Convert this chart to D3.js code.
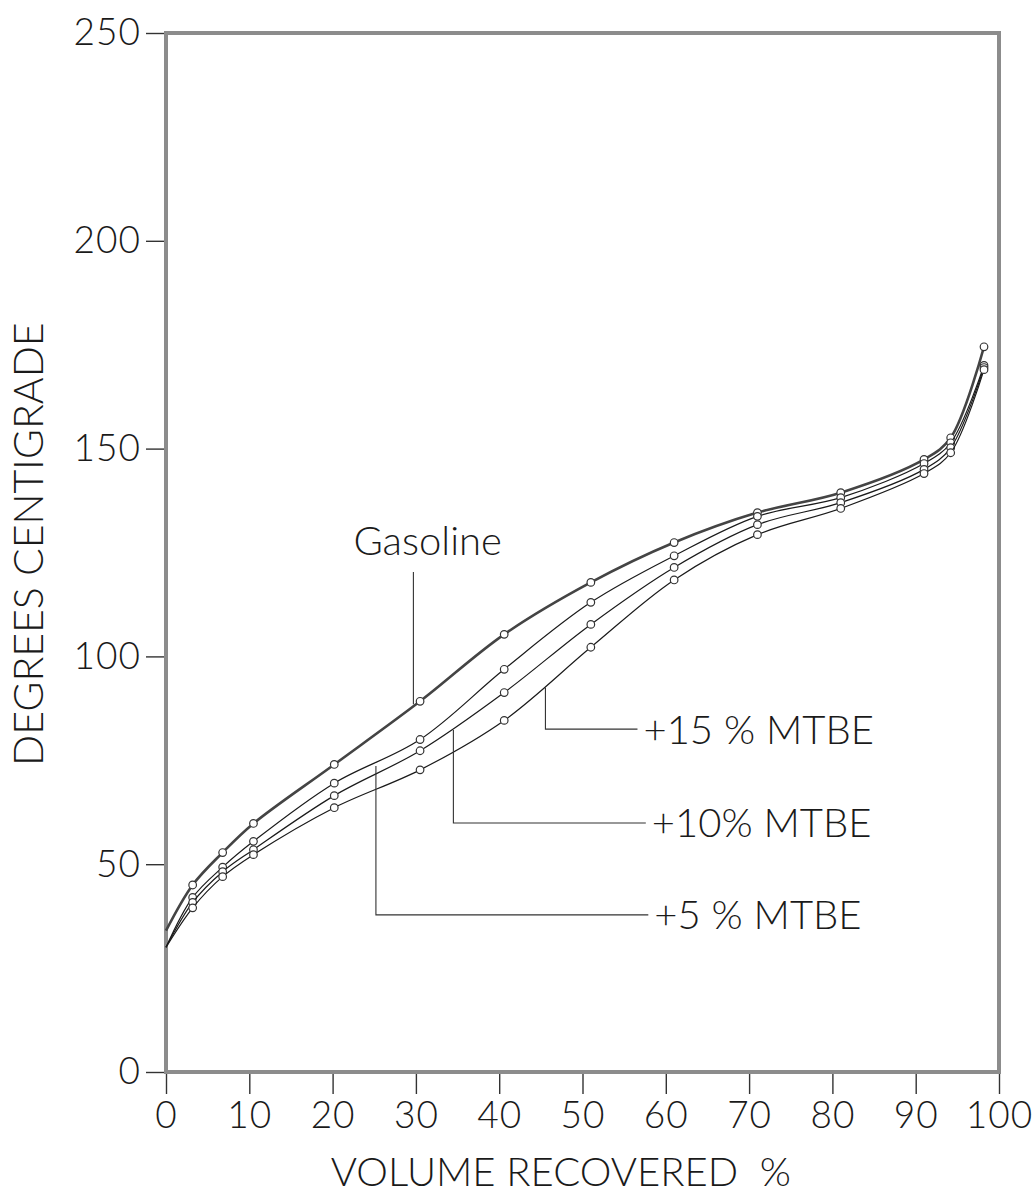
<!DOCTYPE html>
<html>
<head>
<meta charset="utf-8">
<script src="https://cdn.jsdelivr.net/npm/d3@7"></script>
<style>
  body { margin: 0; background: #fff; }
  text { font-family: Lato, Roboto, "Liberation Sans", sans-serif; font-weight: 300; fill: #1a1a1a; white-space: pre; }
</style>
</head>
<body>
<svg id="chart"></svg>
<script>
// % volume recovered at which the temperatures were read
let volume = [0, 3.2, 6.8, 10.5, 20.2, 30.5, 40.6, 51, 61, 71, 81, 91, 94.2, 98.2];

// boiling temperature, degrees C
let gasoline = [34, 45, 52.8, 59.8, 74, 89.2, 105.3, 117.8, 127.4, 134.6, 139.4, 147.4, 152.6, 174.5];
let mtbe5    = [30, 42, 49.3, 55.5, 69.5, 80, 96.9, 113, 124.2, 133.7, 138.2, 146.4, 151.4, 170];
let mtbe10   = [30, 40.8, 48.2, 53.5, 66.5, 77.3, 91.3, 107.7, 121.4, 131.7, 137, 145, 150.2, 169.5];
let mtbe15   = [30, 39.5, 47, 52.3, 63.6, 72.7, 84.6, 102.2, 118.4, 129.3, 135.6, 144, 149, 169];

let xTicks = [0, 10, 20, 30, 40, 50, 60, 70, 80, 90, 100];
let yTicks = [0, 50, 100, 150, 200, 250];

let seriesNames = ["Gasoline", "+5 % MTBE", "+10% MTBE", "+15 % MTBE"];

drawChart();

function drawChart() {
    let svgWidth = 1035, svgHeight = 1198;
    let margin = { top: 33, right: 36, bottom: 126, left: 166 };
    let width = svgWidth - margin.left - margin.right;
    let height = svgHeight - margin.top - margin.bottom;
    let font = "Lato, Roboto, 'Liberation Sans', sans-serif";

    let svg = d3.select("#chart")
        .attr("width", svgWidth)
        .attr("height", svgHeight);

    let g = svg.append("g")
        .attr("transform", "translate(" + margin.left + "," + margin.top + ")");

    let x = d3.scaleLinear().domain([0, 100]).range([0, width]);
    let y = d3.scaleLinear().domain([0, 250]).range([height, 0]);

    // x axis: ticks hanging below the frame
    let xAxis = g.append("g")
        .attr("transform", "translate(0," + height + ")")
        .call(d3.axisBottom(x).tickValues(xTicks).tickSize(22).tickPadding(8));
    xAxis.select(".domain").remove();
    xAxis.selectAll("line").attr("stroke", "#333").attr("stroke-width", 1.4);
    xAxis.selectAll("text")
        .attr("font-size", 37)
        .attr("font-family", font)
        .attr("font-weight", 300)
        .attr("letter-spacing", 1)
        .attr("fill", "#1a1a1a");

    // y axis: ticks sticking out to the left
    let yAxis = g.append("g")
        .call(d3.axisLeft(y).tickValues(yTicks).tickSize(20).tickPadding(5));
    yAxis.select(".domain").remove();
    yAxis.selectAll("line").attr("stroke", "#333").attr("stroke-width", 1.4);
    yAxis.selectAll("text")
        .attr("font-size", 37)
        .attr("font-family", font)
        .attr("font-weight", 300)
        .attr("letter-spacing", 1)
        .attr("fill", "#1a1a1a");

    // frame
    g.append("rect")
        .attr("x", 0)
        .attr("y", 0)
        .attr("width", width)
        .attr("height", height)
        .attr("fill", "none")
        .attr("stroke", "#8c8c8c")
        .attr("stroke-width", 4);

    // axis titles
    svg.append("text")
        .attr("x", margin.left + x(47.4))
        .attr("y", 1186)
        .attr("text-anchor", "middle")
        .attr("font-size", 40)
        .text("VOLUME RECOVERED  %");

    svg.append("text")
        .attr("transform", "translate(43," + (margin.top + y(127)) + ") rotate(-90)")
        .attr("text-anchor", "middle")
        .attr("font-size", 41)
        .text("DEGREES CENTIGRADE");

    let line = function (vals) {
        return d3.line()
            .x(function (d, i) { return x(volume[i]) })
            .y(function (d) { return y(d) })
            .curve(d3.curveCatmullRom.alpha(0.5))(vals);
    };

    let series = [gasoline, mtbe5, mtbe10, mtbe15];

    series.forEach(function (vals, k) {
        g.append("path")
            .attr("fill", "none")
            .attr("stroke", k === 0 ? "#444" : "#1a1a1a")
            .attr("stroke-width", k === 0 ? 2.6 : 1.2)
            .attr("stroke-linejoin", "round")
            .attr("d", line(vals));

        g.selectAll(null)
            .data(vals.slice(1))
            .enter().append("circle")
            .attr("cx", function (d, i) { return x(volume[i + 1]) })
            .attr("cy", function (d) { return y(d) })
            .attr("r", 3.8)
            .attr("fill", "#fff")
            .attr("stroke", "#333")
            .attr("stroke-width", 1.2);
    });

    // call-out leaders, in data units: vertical at `at`, from the curve down to `level`, then right to `end`
    let callouts = [
        { name: seriesNames[3], at: 45.55, top: 92.5, level: 82.5, end: 56.6 },
        { name: seriesNames[2], at: 34.5, top: 82.3, level: 59.9, end: 57.6 },
        { name: seriesNames[1], at: 25.2, top: 73.6, level: 37.8, end: 57.9 }
    ];

    callouts.forEach(function (c) {
        g.append("path")
            .attr("fill", "none")
            .attr("stroke", "#333")
            .attr("stroke-width", 1.1)
            .attr("d", d3.line()([
                [x(c.at), y(c.top)],
                [x(c.at), y(c.level)],
                [x(c.end), y(c.level)]
            ]));
        g.append("text")
            .attr("x", x(c.end) + 6)
            .attr("y", y(c.level))
            .attr("dy", "0.36em")
            .attr("font-size", 40)
            .text(c.name);
    });

    // gasoline label with a plain vertical pointer
    g.append("line")
        .attr("x1", x(29.7)).attr("x2", x(29.7))
        .attr("y1", y(120.3)).attr("y2", y(88.5))
        .attr("stroke", "#333")
        .attr("stroke-width", 1.1);
    g.append("text")
        .attr("x", x(22.5))
        .attr("y", y(124.4))
        .attr("font-size", 40)
        .text(seriesNames[0]);
}
</script>
</body>
</html>
